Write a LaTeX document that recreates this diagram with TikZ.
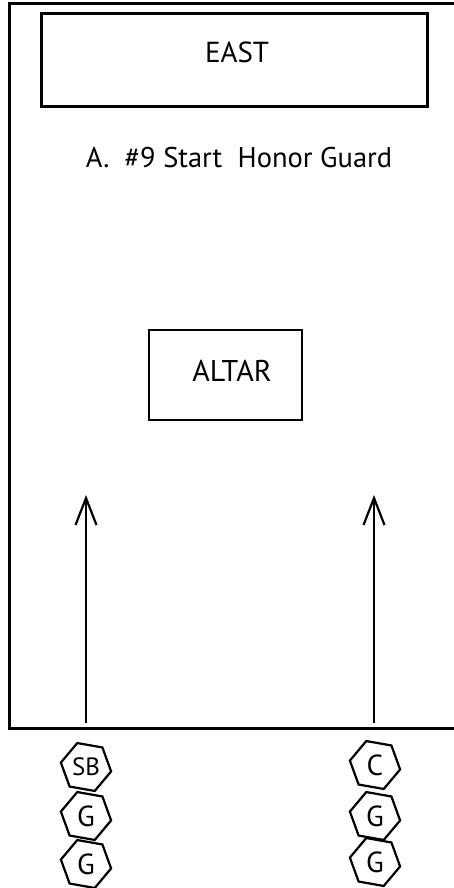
\documentclass[tikz,border=0pt]{standalone}
\usepackage{fontspec}
\setmainfont{PT Sans}
\usetikzlibrary{arrows.meta,
positioning,
shapes.geometric}

\begin{document}
\begin{tikzpicture}[
    x=1pt,
    y=-1pt,
    wall/.style={
        line width=3pt
    },
    station/.style={
        draw,
        line width=2.2pt,
        inner sep=0pt
    },
    roomtext/.style={
        inner sep=0pt,
        font=\fontsize{29}{32}\selectfont
    },
    march/.style={
        -{Straight Barb[length=27pt,width=21pt,line width=2.2pt]},
        line width=2.2pt
    },
    guard/.style={
        draw,
        regular polygon,
        regular polygon sides=6,
        shape border rotate=-10,
        minimum size=51pt,
        inner sep=0pt,
        line width=2.2pt,
        font=\fontsize{29}{32}\selectfont
    }
]

%-------------------------------------------------
% Room
%-------------------------------------------------

\useasboundingbox (0,0) rectangle (454,888);
\draw[wall] (460,4) -- (9,4) -- (9,728) -- (460,728);

\node[station,minimum width=386pt,minimum height=93pt] (east)
at (234.5,60) {};
\node[roomtext] (eastlabel) at (237,52) {EAST};

\node[roomtext,font=\fontsize{28.5}{32}\selectfont] (title)
at (239,158) {A.\ \ \#9 Start\ \ Honor Guard};

\node[station,minimum width=153pt,minimum height=90pt] (altar)
at (225.5,375) {};
\node[roomtext,font=\fontsize{30}{33}\selectfont] (altarlabel)
at (232,371) {ALTAR};

%-------------------------------------------------
% Honor guard
%-------------------------------------------------

\node[guard,font=\fontsize{25}{28}\selectfont] (sb) at (86,767) {SB};
\node[guard] (g1) at (86,816) {G};
\node[guard] (g2) at (86,864) {G};

\node[guard] (c) at (375,765) {C};
\node[guard] (g3) at (375,816) {G};
\node[guard] (g4) at (375,862) {G};

%-------------------------------------------------
% Marching lines
%-------------------------------------------------

\coordinate (lstart) at (86,723);
\coordinate (lend) at (86,495);
\coordinate (rstart) at (374,723);
\coordinate (rend) at (374,495);

\draw[march] (lstart) -- (lend);
\draw[march] (rstart) -- (rend);

\end{tikzpicture}
\end{document}
